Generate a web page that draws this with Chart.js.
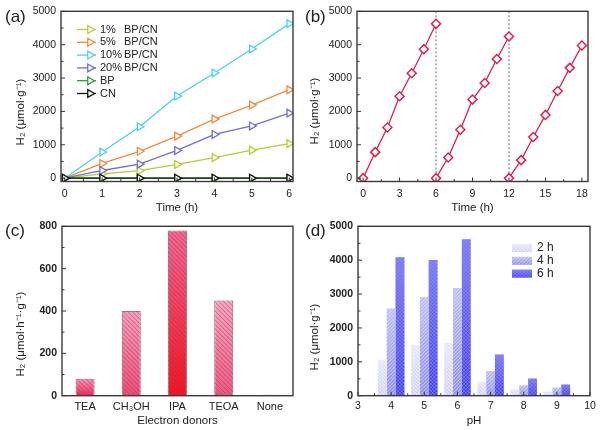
<!DOCTYPE html>
<html>
<head>
<meta charset="utf-8">
<script src="https://cdn.jsdelivr.net/npm/chart.js@4.4.1/dist/chart.umd.min.js"></script>
<style>
html,body{margin:0;padding:0;background:#fff;}
#wrap{position:relative;width:600px;height:430px;overflow:hidden;}
canvas{position:absolute;}
.tag{position:absolute;font:17px "Liberation Sans",Arial,sans-serif;color:#222;line-height:20px;}
</style>
</head>
<body>
<div id="wrap">
<canvas id="chartA" width="300" height="215" style="left:0;top:0"></canvas>
<canvas id="chartB" width="300" height="215" style="left:300px;top:0"></canvas>
<canvas id="chartC" width="300" height="215" style="left:0;top:215px"></canvas>
<canvas id="chartD" width="300" height="215" style="left:300px;top:215px"></canvas>
<div class="tag" style="left:5px;top:7px">(a)</div>
<div class="tag" style="left:305px;top:7px">(b)</div>
<div class="tag" style="left:5px;top:221px">(c)</div>
<div class="tag" style="left:305px;top:221px">(d)</div>
</div>
<script>
// ---- data ----
// (a) H2 evolution vs time for the composites
const hours = [0, 1, 2, 3, 4, 5, 6];
const bpcn1 = [0, 130, 225, 410, 615, 840, 1035];
const bpcn5 = [0, 440, 805, 1260, 1770, 2190, 2650];
const bpcn10 = [0, 785, 1540, 2460, 3150, 3870, 4630];
const bpcn20 = [0, 230, 420, 830, 1310, 1565, 1950];
const bpOnly = [0, 0, 0, 0, 0, 0, 0];
const cnOnly = [0, 0, 0, 0, 0, 0, 0];
const timeTicksA = [0, 1, 2, 3, 4, 5, 6];
const h2Ticks = [0, 1000, 2000, 3000, 4000, 5000];

// (b) cycling runs
const cycleHours1 = [0, 1, 2, 3, 4, 5, 6];
const cycleH2_1 = [0, 780, 1520, 2455, 3145, 3865, 4625];
const cycleHours2 = [6, 7, 8, 9, 10, 11, 12];
const cycleH2_2 = [0, 620, 1450, 2355, 2850, 3570, 4245];
const cycleHours3 = [12, 13, 14, 15, 16, 17, 18];
const cycleH2_3 = [0, 540, 1235, 1895, 2610, 3305, 3975];
const cycleBreaks = [6, 12];
const timeTicksB = [0, 3, 6, 9, 12, 15, 18];

// (c) electron donors
const donors = ["TEA", "CH₃OH", "IPA", "TEOA", "None"];
const donorRates = [80, 400, 780, 450, 4];
const rateTicks = [0, 200, 400, 600, 800];

// (d) pH dependence
const pHs = [4, 5, 6, 7, 8, 9];
const h2At2h = [1060, 1505, 1555, 410, 185, 117];
const h2At4h = [2575, 2915, 3180, 730, 310, 240];
const h2At6h = [4085, 4005, 4620, 1215, 505, 330];
const pHTicks = [3, 4, 5, 6, 7, 8, 9, 10];

// ---- common look ----
const FONT = '"Liberation Sans", Arial, sans-serif';
Chart.defaults.font.family = FONT;
Chart.defaults.color = "#222";
Chart.defaults.animation = false;

function fixTicks(list) {
    return s => { s.ticks = list.map(v => ({value: v})); };
}
const plain = v => String(v);

// box frame + inward major/minor ticks + rotated y title
const framePlugin = {
    id: "frame",
    afterDraw(chart, args, opts) {
        const {ctx, chartArea: a, scales} = chart;
        ctx.save();
        ctx.strokeStyle = "#333";
        ctx.lineWidth = 1;
        ctx.beginPath();
        const xs = scales.x, ys = scales.y;
        if (opts.xTicks) {
            const px = xs.ticks.map(t => xs.getPixelForValue(t.value));
            px.forEach((p, i) => {
                ctx.moveTo(p, a.bottom); ctx.lineTo(p, a.bottom - 4);
                if (i > 0) {
                    const m = (p + px[i - 1]) / 2;
                    ctx.moveTo(m, a.bottom); ctx.lineTo(m, a.bottom - 2.5);
                }
            });
        }
        const py = ys.ticks.map(t => ys.getPixelForValue(t.value));
        py.forEach((p, i) => {
            ctx.moveTo(a.left, p); ctx.lineTo(a.left + 4, p);
            if (i > 0) {
                const m = (p + py[i - 1]) / 2;
                ctx.moveTo(a.left, m); ctx.lineTo(a.left + 2.5, m);
            }
        });
        ctx.stroke();
        ctx.strokeStyle = "#3a3a3a";
        ctx.lineWidth = 1.4;
        ctx.strokeRect(a.left, a.top, a.right - a.left, a.bottom - a.top);
        if (opts.yTitle) {
            const t = opts.yTitle;
            ctx.translate(t.x, t.y);
            ctx.rotate(-Math.PI / 2);
            ctx.font = "11.5px " + FONT;
            ctx.fillStyle = "#222";
            ctx.textAlign = "center";
            ctx.textBaseline = "middle";
            ctx.fillText(t.text, 0, 0);
        }
        ctx.restore();
    }
};

function paintHatch(ctx, left, top, w, h, hatch) {
    ctx.save();
    ctx.beginPath();
    ctx.rect(left, top, w, h);
    ctx.clip();
    ctx.strokeStyle = hatch.color;
    ctx.lineWidth = hatch.width;
    ctx.beginPath();
    hatch.dirs.forEach(d => {
        for (let k = -h; k < w + h; k += hatch.gap) {
            if (d > 0) {
                ctx.moveTo(left + k, top + h); ctx.lineTo(left + k + h, top);
            } else {
                ctx.moveTo(left + k, top); ctx.lineTo(left + k + h, top + h);
            }
        }
    });
    ctx.stroke();
    ctx.restore();
}

const hatchPlugin = {
    id: "hatch",
    afterDatasetsDraw(chart) {
        const ctx = chart.ctx;
        chart.data.datasets.forEach((ds, di) => {
            if (!ds.hatch) return;
            chart.getDatasetMeta(di).data.forEach(bar => {
                const {x, y, base, width} = bar.getProps(["x", "y", "base", "width"], true);
                const top = Math.min(y, base), h = Math.abs(base - y);
                if (h < 1) return;
                paintHatch(ctx, x - width / 2, top, width, h, ds.hatch);
            });
        });
    }
};

function verticalGradient(tops, bottoms) {
    return c => {
        const i = c.dataIndex;
        const top = Array.isArray(tops) ? tops[i] : tops;
        const bottom = Array.isArray(bottoms) ? bottoms[i] : bottoms;
        const chart = c.chart;
        if (!chart.chartArea || c.parsed == null) return bottom;
        const ys = chart.scales.y;
        const y0 = ys.getPixelForValue(0);
        let y1 = ys.getPixelForValue(c.parsed.y);
        if (Math.abs(y1 - y0) < 1) y1 = y0 - 1;
        const g = chart.ctx.createLinearGradient(0, y0, 0, y1);
        g.addColorStop(0, bottom);
        g.addColorStop(1, top);
        return g;
    };
}

function xTitle(text, pad) {
    return {display: true, text: text, font: {size: 11.5, family: FONT}, padding: {top: 0, bottom: pad}};
}
const noGrid = {display: false, drawTicks: false};
const noBorder = {display: false};

// ---- (a) ----
function triangleRight(ctx, x, y, r) {
    ctx.beginPath();
    ctx.moveTo(x + r, y);
    ctx.lineTo(x - r / 2, y - r * 0.866);
    ctx.lineTo(x - r / 2, y + r * 0.866);
    ctx.closePath();
    ctx.fill();
    ctx.stroke();
}

const seriesA = [
    {pct: "1%", values: bpcn1, color: "#b6cd2f", name: "BP/CN"},
    {pct: "5%", values: bpcn5, color: "#f08a3c", name: "BP/CN"},
    {pct: "10%", values: bpcn10, color: "#4cd3db", name: "BP/CN"},
    {pct: "20%", values: bpcn20, color: "#6e6ed6", name: "BP/CN"},
    {pct: "BP", values: bpOnly, color: "#2e9b2e", name: ""},
    {pct: "CN", values: cnOnly, color: "#111111", name: ""}
];

const legendA = {
    id: "legendA",
    afterDraw(chart) {
        const ctx = chart.ctx;
        ctx.save();
        ctx.font = "11px " + FONT;
        ctx.textBaseline = "middle";
        seriesA.forEach((s, i) => {
            const y = 29.5 + i * 12.8;
            ctx.strokeStyle = s.color;
            ctx.fillStyle = "#fff";
            ctx.lineWidth = 1.3;
            ctx.beginPath(); ctx.moveTo(77, y); ctx.lineTo(96, y); ctx.stroke();
            triangleRight(ctx, 90, y, 4.5);
            ctx.fillStyle = "#222";
            ctx.fillText(s.pct, 100, y);
            if (s.name) ctx.fillText(s.name, 124, y);
        });
        ctx.restore();
    }
};

new Chart(document.getElementById("chartA"), {
    type: "line",
    data: {
        datasets: seriesA.map((s, i) => ({
            label: s.pct + " " + s.name,
            data: hours.map((h, k) => ({x: h, y: s.values[k]})),
            borderColor: s.color,
            backgroundColor: "#fff",
            borderWidth: 1.3,
            pointStyle: "triangle",
            pointRotation: 90,
            pointRadius: 4.5,
            pointBorderWidth: 1.3,
            pointBackgroundColor: "#fff",
            order: seriesA.length - i
        }))
    },
    options: {
        responsive: false,
        layout: {padding: {top: 9, right: 7, left: 0, bottom: 0}},
        plugins: {
            legend: {display: false}, tooltip: {enabled: false},
            frame: {xTicks: true, yTitle: {text: "H₂ (μmol·g⁻¹)", x: 21, y: 112}}
        },
        scales: {
            x: {
                type: "linear", min: -0.1, max: 6.1,
                afterBuildTicks: fixTicks(timeTicksA),
                afterFit: s => { s.height = 33.5; },
                grid: noGrid, border: noBorder,
                ticks: {padding: 6, font: {size: 10.5}, callback: plain},
                title: xTitle("Time (h)", 0)
            },
            y: {
                min: -100, max: 5000,
                afterBuildTicks: fixTicks(h2Ticks),
                afterFit: s => { s.width = 61; },
                grid: noGrid, border: noBorder,
                ticks: {padding: 5, font: {size: 10.5}, callback: plain}
            }
        }
    },
    plugins: [framePlugin, legendA]
});

// ---- (b) ----
const redB = "#e0204c";
const cycleSets = [
    [cycleHours1, cycleH2_1],
    [cycleHours2, cycleH2_2],
    [cycleHours3, cycleH2_3]
];
const breakLines = {
    id: "breakLines",
    beforeDatasetsDraw(chart) {
        const {ctx, chartArea: a, scales} = chart;
        ctx.save();
        ctx.strokeStyle = "#5f6f6f";
        ctx.lineWidth = 1;
        ctx.setLineDash([2, 2]);
        cycleBreaks.forEach(t => {
            const x = scales.x.getPixelForValue(t);
            ctx.beginPath(); ctx.moveTo(x, a.top); ctx.lineTo(x, a.bottom); ctx.stroke();
        });
        ctx.restore();
    }
};

new Chart(document.getElementById("chartB"), {
    type: "line",
    data: {
        datasets: cycleSets.map(([xs, ys], i) => ({
            label: "cycle " + (i + 1),
            data: xs.map((h, k) => ({x: h, y: ys[k]})),
            borderColor: redB,
            borderWidth: 1.3,
            pointStyle: "rectRot",
            pointRadius: 4.5,
            pointBorderWidth: 1.5,
            pointBackgroundColor: "#fff"
        }))
    },
    options: {
        responsive: false,
        layout: {padding: {top: 9, right: 12, left: 0, bottom: 0}},
        plugins: {
            legend: {display: false}, tooltip: {enabled: false},
            frame: {xTicks: true, yTitle: {text: "H₂ (μmol·g⁻¹)", x: 15, y: 111}}
        },
        scales: {
            x: {
                type: "linear", min: -0.5, max: 18.5,
                afterBuildTicks: fixTicks(timeTicksB),
                afterFit: s => { s.height = 33.5; },
                grid: noGrid, border: noBorder,
                ticks: {padding: 6, font: {size: 10.5}, callback: plain},
                title: xTitle("Time (h)", 0)
            },
            y: {
                min: -100, max: 5000,
                afterBuildTicks: fixTicks(h2Ticks),
                afterFit: s => { s.width = 57; },
                grid: noGrid, border: noBorder,
                ticks: {padding: 5, font: {size: 10.5}, callback: plain}
            }
        }
    },
    plugins: [breakLines, framePlugin]
});

// ---- (c) ----
const donorTop = ["#f39abb", "#f4a3bd", "#ef6a94", "#f5abc3", "#f2a0b8"];
const donorBottom = ["#ef2c55", "#ea4f7a", "#f2141e", "#ea5a84", "#ea4f7a"];

new Chart(document.getElementById("chartC"), {
    type: "bar",
    data: {
        labels: donors,
        datasets: [{
            label: "H2 rate",
            data: donorRates,
            backgroundColor: verticalGradient(donorTop, donorBottom),
            borderColor: "rgba(140,90,100,0.8)",
            borderWidth: 1,
            barPercentage: 0.41,
            categoryPercentage: 1,
            hatch: {color: "rgba(190,30,80,0.5)", width: 1, gap: 4.5, dirs: [-1]}
        }]
    },
    options: {
        responsive: false,
        layout: {padding: {top: 9, right: 7, left: 0, bottom: 0}},
        plugins: {
            legend: {display: false}, tooltip: {enabled: false},
            frame: {xTicks: false, yTitle: {text: "H₂ (μmol·h⁻¹·g⁻¹)", x: 21, y: 119}}
        },
        scales: {
            x: {
                afterFit: s => { s.height = 34.3; },
                grid: noGrid, border: noBorder,
                ticks: {padding: 5, font: {size: 11}},
                title: xTitle("Electron donors", 2.4)
            },
            y: {
                min: 0, max: 800,
                afterBuildTicks: fixTicks(rateTicks),
                afterFit: s => { s.width = 62; },
                grid: noGrid, border: noBorder,
                ticks: {padding: 5, font: {size: 10.5, weight: "bold"}, callback: plain}
            }
        }
    },
    plugins: [hatchPlugin, framePlugin]
});

// ---- (d) ----
const seriesD = [
    {label: "2 h", values: h2At2h, top: "#e6e6fa", bottom: "#cfcff5",
        hatch: {color: "rgba(255,255,255,0.75)", width: 1, gap: 3.5, dirs: [-1]}},
    {label: "4 h", values: h2At4h, top: "#bebef6", bottom: "#8e8eee",
        hatch: {color: "rgba(255,255,255,0.55)", width: 1, gap: 3.5, dirs: [1]}},
    {label: "6 h", values: h2At6h, top: "#7878f2", bottom: "#3c3cef",
        hatch: {color: "rgba(150,150,255,0.6)", width: 1, gap: 3.5, dirs: [1, -1]}}
];

const legendD = {
    id: "legendD",
    afterDraw(chart) {
        const ctx = chart.ctx;
        ctx.save();
        ctx.font = "12px " + FONT;
        ctx.textBaseline = "middle";
        seriesD.forEach((s, i) => {
            const y = 33 + i * 12.8;
            const g = ctx.createLinearGradient(0, y + 4, 0, y - 4);
            g.addColorStop(0, s.bottom);
            g.addColorStop(1, s.top);
            ctx.fillStyle = g;
            ctx.fillRect(212, y - 4, 20, 8);
            paintHatch(ctx, 212, y - 4, 20, 8, s.hatch);
            ctx.fillStyle = "#222";
            ctx.fillText(s.label, 237, y);
        });
        ctx.restore();
    }
};

new Chart(document.getElementById("chartD"), {
    type: "bar",
    data: {
        datasets: seriesD.map(s => ({
            label: s.label,
            data: pHs.map((p, k) => ({x: p, y: s.values[k]})),
            backgroundColor: verticalGradient(s.top, s.bottom),
            borderWidth: 0,
            barPercentage: 1,
            categoryPercentage: 0.8,
            hatch: s.hatch
        }))
    },
    options: {
        responsive: false,
        layout: {padding: {top: 9, right: 10, left: 0, bottom: 0}},
        plugins: {
            legend: {display: false}, tooltip: {enabled: false},
            frame: {xTicks: true, yTitle: {text: "H₂ (μmol·g⁻¹)", x: 15, y: 122}}
        },
        scales: {
            x: {
                type: "linear", min: 3, max: 10, offset: false,
                afterBuildTicks: fixTicks(pHTicks),
                afterFit: s => { s.height = 34.3; },
                grid: noGrid, border: noBorder,
                ticks: {padding: 4, font: {size: 10.5}, callback: plain},
                title: xTitle("pH", 2.4)
            },
            y: {
                min: 0, max: 5000,
                afterBuildTicks: fixTicks(h2Ticks),
                afterFit: s => { s.width = 58; },
                grid: noGrid, border: noBorder,
                ticks: {padding: 5, font: {size: 10.5, weight: "bold"}, callback: plain}
            }
        }
    },
    plugins: [hatchPlugin, framePlugin, legendD]
});
</script>
</body>
</html>
